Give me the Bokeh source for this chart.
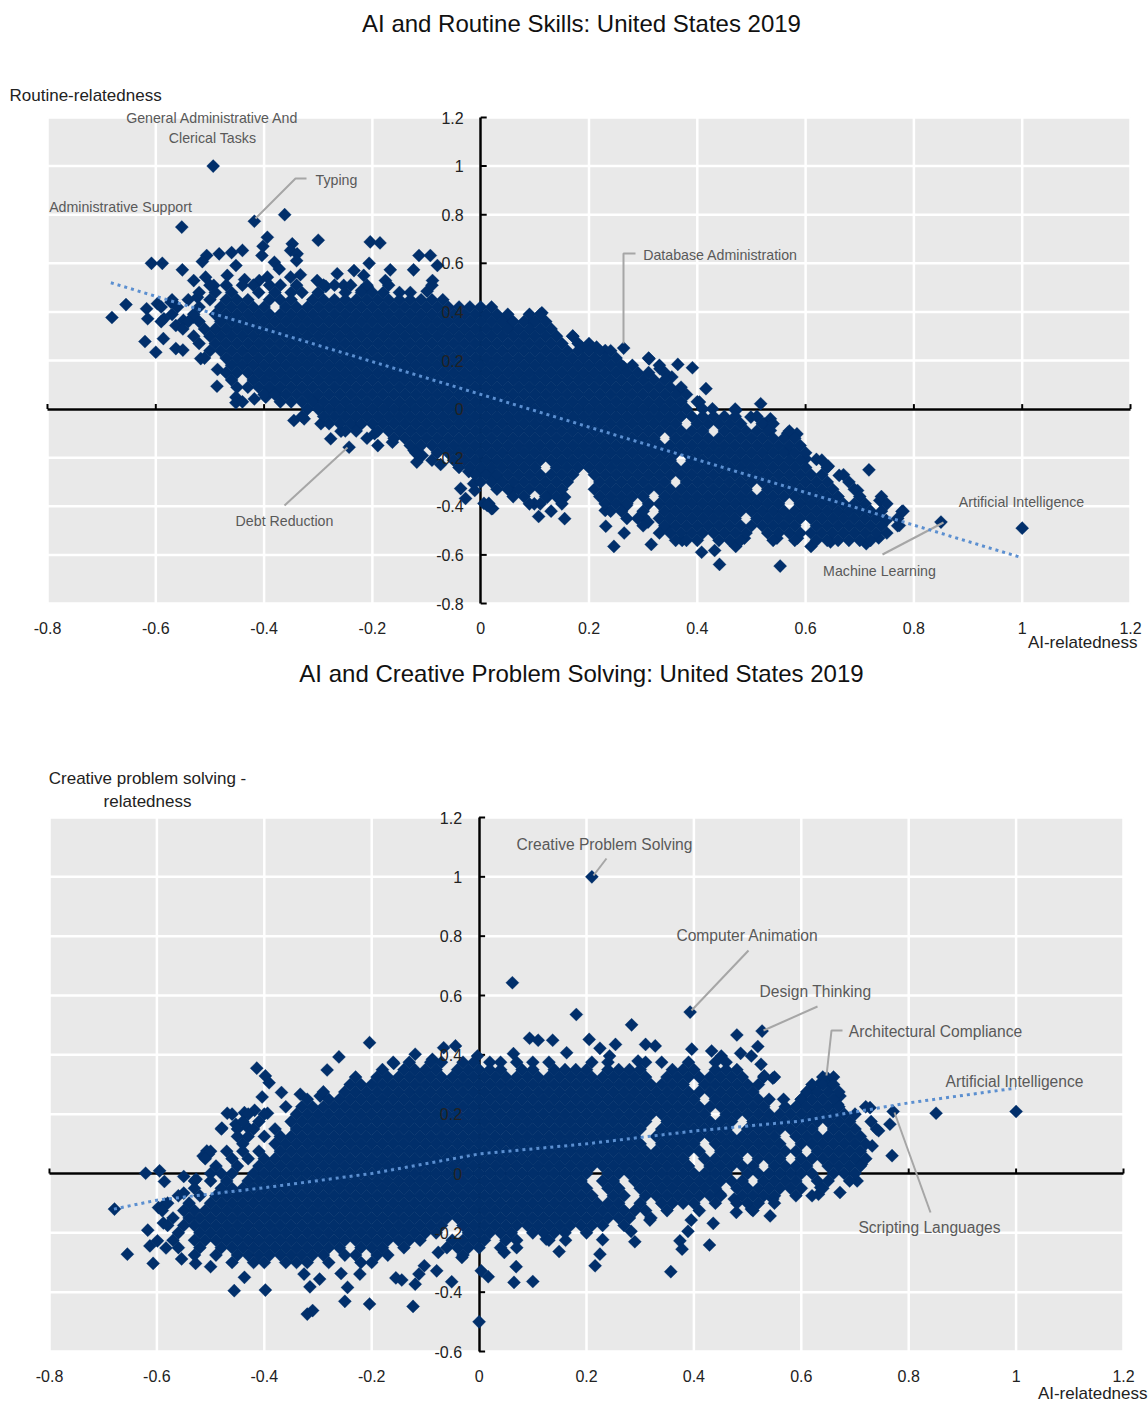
from bokeh.plotting import figure
from bokeh.layouts import column
from bokeh.models import Range1d, LinearAxis, FixedTicker, Label
from bokeh.core.properties import value
from bokeh.embed import file_html
from bokeh.resources import INLINE

x_ticks = [-0.8, -0.6, -0.4, -0.2, 0, 0.2, 0.4, 0.6, 0.8, 1, 1.2]
x_tick_labels = ["-0.8", "-0.6", "-0.4", "-0.2", "0", "0.2", "0.4", "0.6", "0.8", "1", "1.2"]
y_ticks_top = [-0.8, -0.6, -0.4, -0.2, 0, 0.2, 0.4, 0.6, 0.8, 1, 1.2]
y_labels_top = ["-0.8", "-0.6", "-0.4", "-0.2", "0", "0.2", "0.4", "0.6", "0.8", "1", "1.2"]
y_ticks_bottom = [-0.6, -0.4, -0.2, 0, 0.2, 0.4, 0.6, 0.8, 1, 1.2]
y_labels_bottom = ["-0.6", "-0.4", "-0.2", "0", "0.2", "0.4", "0.6", "0.8", "1", "1.2"]

# ---- isolated marks (AI-relatedness, routine-relatedness)
routine_x = [-.494,-.418,-.362,-.552,-.30,-.394,-.402,-.348,-.204,-.186,-.114,-.093,-.608,-.588,-.551,-.506,-.514,-.483,-.46,-.44,-.452,-.404,-.351,-.339,-.34,-.381,-.372,-.333,-.351,-.265,-.234,-.206,-.216,-.167,-.176,-.124,-.08,-.089,-.099,-.209,-.22,-.302,-.286,-.253,-.681,-.655,-.617,-.597,-.572,-.615,-.585,-.563,-.549,-.62,-.586,-.60,-.563,-.55,-.517,-.53,-.523,-.53,-.508,-.493,-.468,-.436,-.409,-.394,-.486,-.487,-.452,-.452,-.418,-.39,-.378,-.397,-.345,-.326,-.308,-.295,-.277,-.258,-.243,-.231,-.196,-.163,-.123,-.118,-.108,-.074,-.037,-.028,-.011,-.022,0,.015,.028,-.013,.006,.022,.015,
.113,.095,.048,.052,.17,.186,.214,.23,.264,.311,.264,.331,.364,.391,.353,.416,.366,.404,.428,.517,.499,.535,.523,.535,.471,.567,.584,.567,.60,.62,.642,.717,.662,.696,.737,.778,.749,.773,.735,.85,1.0,.712,.646,.61,.585,.547,.553,.441,.408,.432,.471,.487,.315,.246,.265,.231,.301,.309,.341,.372,.155,.107,.099,.123,.155,.02,.012,.024,.057,.269,.23]
routine_y = [1.0,.773,.80,.749,.695,.707,.67,.68,.688,.684,.632,.632,.60,.60,.573,.632,.607,.639,.644,.653,.591,.632,.653,.639,.611,.604,.577,.553,.543,.557,.57,.60,.55,.573,.529,.573,.591,.529,.485,.502,.488,.529,.505,.509,.377,.43,.413,.434,.44,.372,.372,.344,.365,.278,.29,.234,.249,.243,.208,.378,.46,.529,.543,.509,.55,.533,.529,.543,.163,.094,.049,.026,.042,.085,.064,.049,-.047,-.04,.035,-.06,-.122,-.091,-.157,-.074,-.101,-.136,-.17,-.218,-.191,-.228,-.327,-.368,-.335,-.257,-.253,-.266,-.276,-.307,-.388,-.409,-.388,
.396,.358,.378,.335,.30,.255,.255,.241,.251,.207,.173,.166,.184,.17,.132,.084,.077,.029,.001,.022,-.033,-.04,-.06,-.088,-.006,-.099,-.102,-.17,-.204,-.207,-.235,-.25,-.273,-.335,-.376,-.421,-.458,-.479,-.53,-.465,-.49,-.554,-.547,-.565,-.531,-.531,-.646,-.639,-.589,-.582,-.565,-.531,-.557,-.565,-.51,-.482,-.445,-.465,-.486,-.54,-.451,-.442,-.39,-.362,-.362,-.41,-.396,-.273,-.335,-.397,-.417]

# dense part of the first panel, band by band: routine-relatedness, then AI-relatedness in hundredths
routine_bands = [
(.51,[-50,-47,-44,-42,-39,-37,-34,-29,-27,-24,-21,-17,-9]),
(.48,[-52,-49,-46,-41,-38,-35,-33,-30,-25,-22,-20,-18,-15,-13]),
(.45,[-57,-54,-50,-47,-45,-43,-39,-37,-35,-31,-29,-27,-25,-23,-21,-19,-17,-15,-13,-11,-9,-7]),
(.42,[-59,-56,-52,-48,-46,-44,-42,-40,-36,-34,-32,-30,-28,-26,-24,-22,-20,-18,-16,-14,-12,-10,-8,-6,-4,-2,0,2]),
(.39,[-57,-53,-49,-47,-45,-43,-41,-39,-37,-35,-33,-31,-29,-27,-25,-23,-21,-19,-17,-15,-13,-11,-9,-7,-5,-3,-1,1,3,5,9,11]),
(.36,[-59,-54,-52,-48,-46,-44,-42,-40,-38,-36,-34,-32,-30,-28,-26,-24,-22,-20,-18,-16,-14,-12,-10,-8,-6,-4,-2,0,2,4,6,8,10,12]),
(.33,[-55,-51,-49,-47,-45,-43,-41,-39,-37,-35,-33,-31,-29,-27,-25,-23,-21,-19,-17,-15,-13,-11,-9,-7,-5,-3,-1,1,3,5,7,9,11,13]),
(.30,[-53,-50,-48,-46,-44,-42,-40,-38,-36,-34,-32,-30,-28,-26,-24,-22,-20,-18,-16,-14,-12,-10,-8,-6,-4,-2,0,2,4,6,8,10,12,14,17]),
(.27,[-52,-49,-47,-45,-43,-41,-39,-37,-35,-33,-31,-29,-27,-25,-23,-21,-19,-17,-15,-13,-11,-9,-7,-5,-3,-1,1,3,5,7,9,11,13,15,18,20]),
(.24,[-50,-48,-46,-44,-42,-40,-38,-36,-34,-32,-30,-28,-26,-24,-22,-20,-18,-16,-14,-12,-10,-8,-6,-4,-2,0,2,4,6,8,10,12,14,16,18,20,22,24]),
(.21,[-51,-47,-45,-43,-41,-39,-37,-35,-33,-31,-29,-27,-25,-23,-21,-19,-17,-15,-13,-11,-9,-7,-5,-3,-1,1,3,5,7,9,11,13,15,17,19,21,23,25,31]),
(.18,[-46,-44,-42,-40,-38,-36,-34,-32,-30,-28,-26,-24,-22,-20,-18,-16,-14,-12,-10,-8,-6,-4,-2,0,2,4,6,8,10,12,14,16,18,20,22,24,26,28,33]),
(.15,[-47,-45,-43,-41,-39,-37,-35,-33,-31,-29,-27,-25,-23,-21,-19,-17,-15,-13,-11,-9,-7,-5,-3,-1,1,3,5,7,9,11,13,15,17,19,21,23,25,27,29,31,34]),
(.12,[-46,-42,-40,-38,-36,-34,-32,-30,-28,-26,-24,-22,-20,-18,-16,-14,-12,-10,-8,-6,-4,-2,0,2,4,6,8,10,12,14,16,18,20,22,24,26,28,30,32,34]),
(.09,[-45,-43,-41,-39,-37,-35,-33,-31,-29,-27,-25,-23,-21,-19,-17,-15,-13,-11,-9,-7,-5,-3,-1,1,3,5,7,9,11,13,15,17,19,21,23,25,27,29,31,33,35,37]),
(.06,[-40,-38,-36,-34,-32,-30,-28,-26,-24,-22,-20,-18,-16,-14,-12,-10,-8,-6,-4,-2,0,2,4,6,8,10,12,14,16,18,20,22,24,26,28,30,32,34,36,38]),
(.03,[-44,-37,-35,-33,-31,-29,-27,-25,-23,-21,-19,-17,-15,-13,-11,-9,-7,-5,-3,-1,1,3,5,7,9,11,13,15,17,19,21,23,25,27,29,31,33,35,37,40]),
(.00,[-32,-30,-28,-26,-24,-22,-20,-18,-16,-14,-12,-10,-8,-6,-4,-2,0,2,4,6,8,10,12,14,16,18,20,22,24,26,28,30,32,34,36,38,41,47]),
(-.03,[-33,-29,-27,-25,-23,-21,-19,-17,-15,-13,-11,-9,-7,-5,-3,-1,1,3,5,7,9,11,13,15,17,19,21,23,25,27,29,31,33,35,37,39,41,43,45,47,51]),
(-.06,[-28,-26,-24,-22,-20,-18,-16,-14,-12,-10,-8,-6,-4,-2,0,2,4,6,8,10,12,14,16,18,20,22,24,26,28,30,32,34,36,40,42,44,46,48,52,54]),
(-.09,[-25,-23,-19,-17,-15,-13,-11,-9,-7,-5,-3,-1,1,3,5,7,9,11,13,15,17,19,21,23,25,27,29,31,33,35,37,39,41,45,47,49,51,53,57]),
(-.12,[-21,-16,-14,-12,-10,-8,-6,-4,-2,0,2,4,6,8,10,12,14,16,18,20,22,24,26,28,30,32,36,38,40,42,44,46,48,50,52,54,56,58]),
(-.15,[-19,-13,-11,-9,-7,-5,-3,-1,1,3,5,7,9,11,13,15,17,19,21,23,25,27,29,31,33,35,37,39,41,43,45,47,49,51,53,55,57,59]),
(-.18,[-12,-8,-6,-4,-2,0,2,4,6,8,10,12,14,16,18,20,22,24,26,28,30,32,34,36,38,40,42,44,46,48,50,52,54,56,58,60]),
(-.21,[-9,-5,-3,-1,1,3,5,7,9,11,13,15,17,19,21,23,25,27,29,31,33,35,39,41,43,45,47,49,51,53,55,57,59,63]),
(-.24,[-4,-2,0,2,4,6,8,10,14,16,18,20,22,24,26,28,30,32,34,36,38,40,42,44,46,48,50,52,54,56,58,60,64]),
(-.27,[-1,1,3,5,7,9,11,13,15,17,21,23,25,27,29,31,33,35,37,39,41,43,45,47,49,51,53,55,57,59,61,63,67]),
(-.30,[0,2,4,6,8,10,12,14,16,22,24,26,28,30,32,34,38,40,42,44,46,48,50,52,54,56,58,60,62,64,68]),
(-.33,[3,5,7,9,11,13,15,21,23,25,27,29,31,33,35,37,39,41,43,45,47,49,53,55,57,59,61,63,65,69]),
(-.36,[6,8,12,14,22,24,26,28,30,34,36,38,40,42,44,46,48,50,52,54,56,58,60,62,64,66,70,74]),
(-.39,[9,11,15,23,25,27,31,33,35,37,39,41,43,45,47,49,51,53,55,59,61,63,65,67,69,71,75]),
(-.42,[13,24,26,30,34,36,38,40,42,44,46,48,50,52,54,56,58,60,62,64,66,68,70,72,74,78]),
(-.45,[27,29,33,35,37,39,41,43,45,47,51,53,55,57,59,61,63,65,67,69,71,73,77]),
(-.48,[30,34,36,38,40,42,44,46,48,50,52,54,56,58,62,64,66,68,70,72,74,77]),
(-.51,[33,35,37,39,41,43,45,47,49,53,55,57,59,61,63,65,67,69,71,73,75]),
(-.54,[36,38,40,44,46,48,54,58,62,64,66,68,70,72]),
]

# ---- isolated marks (AI-relatedness, creative-relatedness)
creative_x = [-.204,-.261,-.283,-.414,-.398,-.391,-.368,-.404,-.333,-.296,-.469,-.437,-.418,-.394,-.479,-.453,-.431,-.507,-.514,-.504,-.621,-.595,-.586,-.55,-.527,-.55,-.679,-.597,-.585,-.588,-.617,-.613,-.599,-.583,-.655,-.607,-.554,-.528,-.5,-.456,-.398,-.437,-.315,-.32,-.31,-.25,-.245,-.257,-.297,-.326,-.204,-.123,-.222,-.155,-.144,-.119,-.112,-.102,-.079,-.051,0,.004,.017,.065,.10,.069,-.032,-.076,.047,-.066,-.044,-.119,-.159,-.003,-.087,.064,
.062,.181,.284,.393,.527,.48,.094,.11,.137,.163,.205,.225,.254,.243,.31,.328,.296,.396,.433,.451,.487,.519,.507,.525,.547,.531,.648,.636,.62,.656,.672,.668,.567,.6,.728,.771,.744,.765,.732,.769,.712,.704,.672,.632,.636,.851,1.0,.542,.507,.479,.475,.449,.547,.436,.395,.389,.374,.378,.429,.357,.318,.283,.29,.23,.225,.216,.149,.161,.125,.21]
creative_y = [.441,.393,.349,.355,.329,.306,.273,.258,.267,.261,.203,.205,.213,.203,.153,.166,.155,.076,.059,.065,.001,.009,-.027,-.01,-.019,-.066,-.12,-.115,-.103,-.167,-.191,-.244,-.227,-.251,-.272,-.303,-.288,-.303,-.314,-.395,-.393,-.35,-.382,-.474,-.462,-.431,-.384,-.337,-.356,-.339,-.44,-.448,-.339,-.352,-.359,-.373,-.339,-.311,-.328,-.365,-.5,-.328,-.348,-.367,-.364,-.314,-.283,-.266,-.266,.424,.43,.402,.371,.396,.385,.404,
.643,.536,.501,.544,.48,.467,.456,.449,.449,.407,.452,.422,.435,.396,.435,.43,.379,.419,.413,.396,.405,.428,.396,.368,.321,.329,.323,.306,.284,.301,.261,.233,.25,.25,.222,.209,.144,.166,.093,.06,.031,-.025,-.064,-.07,-.047,.203,.209,-.143,-.12,-.131,-.086,-.07,-.086,-.168,-.157,-.195,-.227,-.255,-.241,-.331,-.157,-.195,-.23,-.223,-.272,-.311,-.263,-.225,-.221,1.0]

# dense part of the second panel, band by band
creative_bands = [
(.375,[-16,-13,-9,-7,-3,-1,2,4,7,10,13,21,24,31,34,39,44,46]),
(.35,[-18,-14,-12,-10,-8,-4,-2,0,2,4,8,10,14,16,18,20,24,26,28,30,36,38,40,44,46,48]),
(.325,[-23,-19,-17,-15,-13,-11,-9,-7,-5,-3,-1,1,3,5,7,9,11,13,15,17,19,21,23,25,27,29,31,35,37,39,41,43,45,47,49,53,55,64,66]),
(.30,[-24,-22,-20,-18,-16,-14,-12,-10,-8,-6,-4,-2,0,2,4,6,8,10,12,14,16,18,20,22,24,26,28,30,32,34,36,38,42,44,46,48,50,52,62,64,66]),
(.275,[-29,-25,-23,-21,-19,-17,-15,-13,-11,-9,-7,-5,-3,-1,1,3,5,7,9,11,13,15,17,19,21,23,25,27,29,31,33,35,37,39,41,43,45,47,49,51,61,63,65,67]),
(.25,[-32,-28,-26,-24,-22,-20,-18,-16,-14,-12,-10,-8,-6,-4,-2,0,2,4,6,8,10,12,14,16,18,20,22,24,26,28,30,32,34,36,38,40,44,46,48,50,52,54,60,62,64,66]),
(.225,[-36,-33,-31,-29,-27,-25,-23,-21,-19,-17,-15,-13,-11,-9,-7,-5,-3,-1,1,3,5,7,9,11,13,15,17,19,21,23,25,27,29,31,33,35,37,39,41,43,45,47,49,51,53,57,59,61,63,65,67,72]),
(.20,[-46,-43,-40,-34,-32,-30,-28,-26,-24,-22,-20,-18,-16,-14,-12,-10,-8,-6,-4,-2,0,2,4,6,8,10,12,14,16,18,20,22,24,26,28,30,32,34,36,38,40,42,46,48,50,52,54,56,58,60,62,64,66,68,70]),
(.175,[-44,-41,-35,-33,-31,-29,-27,-25,-23,-21,-19,-17,-15,-13,-11,-9,-7,-5,-3,-1,1,3,5,7,9,11,13,15,17,19,21,23,25,27,29,31,35,37,39,41,43,45,47,51,53,55,57,59,61,63,65,67,69,73]),
(.15,[-48,-45,-42,-38,-34,-32,-30,-28,-26,-24,-22,-20,-18,-16,-14,-12,-10,-8,-6,-4,-2,0,2,4,6,8,10,12,14,16,18,20,22,24,26,28,30,34,36,38,40,42,44,46,50,52,54,56,58,60,62,66,68,70,74]),
(.125,[-45,-43,-40,-37,-35,-33,-31,-29,-27,-25,-23,-21,-19,-17,-15,-13,-11,-9,-7,-5,-3,-1,1,3,5,7,9,11,13,15,17,19,21,23,25,27,29,33,35,37,39,41,43,45,47,49,51,53,55,59,61,63,65,67,69,71]),
(.10,[-44,-38,-36,-34,-32,-30,-28,-26,-24,-22,-20,-18,-16,-14,-12,-10,-8,-6,-4,-2,0,2,4,6,8,10,12,14,16,18,20,22,24,26,28,30,34,36,38,40,44,46,48,50,52,54,56,60,62,64,66,68,70,72]),
(.075,[-50,-47,-44,-41,-37,-35,-33,-31,-29,-27,-25,-23,-21,-19,-17,-15,-13,-11,-9,-7,-5,-3,-1,1,3,5,7,9,11,13,15,17,19,21,23,25,27,29,31,33,35,37,39,41,45,47,49,51,53,55,57,59,63,65,67,69,71]),
(.05,[-51,-46,-43,-40,-38,-36,-34,-32,-30,-28,-26,-24,-22,-20,-18,-16,-14,-12,-10,-8,-6,-4,-2,0,2,4,6,8,10,12,14,16,18,20,22,24,26,28,30,32,34,36,38,42,44,46,48,52,54,56,60,62,64,66,68,70,72]),
(.025,[-49,-45,-41,-39,-37,-35,-33,-31,-29,-27,-25,-23,-21,-19,-17,-15,-13,-11,-9,-7,-5,-3,-1,1,3,5,7,9,11,13,15,17,19,21,23,25,27,29,31,33,35,37,39,43,45,47,49,51,55,57,59,61,65,67,69,71]),
(.00,[-50,-48,-46,-42,-40,-38,-36,-34,-32,-30,-28,-26,-24,-22,-20,-18,-16,-14,-12,-10,-8,-6,-4,-2,0,2,4,6,8,10,12,14,16,18,20,24,26,28,30,32,34,36,38,40,42,44,46,50,52,54,56,58,60,62,66,68,70]),
(-.025,[-53,-50,-47,-43,-41,-39,-37,-35,-33,-31,-29,-27,-25,-23,-21,-19,-17,-15,-13,-11,-9,-7,-5,-3,-1,1,3,5,7,9,11,13,15,17,19,23,25,29,31,33,35,37,39,41,43,45,47,49,53,55,57,59,63,65,69]),
(-.05,[-53,-48,-46,-44,-42,-40,-38,-36,-34,-32,-30,-28,-26,-24,-22,-20,-18,-16,-14,-12,-10,-8,-6,-4,-2,0,2,4,6,8,10,12,14,16,18,20,24,26,30,32,34,36,38,40,42,44,48,50,52,54,56,58,60,64]),
(-.075,[-56,-52,-49,-47,-45,-43,-41,-39,-37,-35,-33,-31,-29,-27,-25,-23,-21,-19,-17,-15,-13,-11,-9,-7,-5,-3,-1,1,3,5,7,9,11,13,15,17,19,21,25,27,31,33,35,37,39,41,43,45,49,51,53,55,59,62]),
(-.10,[-58,-54,-50,-48,-46,-44,-42,-40,-38,-36,-34,-32,-30,-28,-26,-24,-22,-20,-18,-16,-14,-12,-10,-8,-6,-4,-2,0,2,4,6,8,10,12,14,16,18,20,22,24,26,30,34,36,38,40,44,48,50,52,55]),
(-.125,[-59,-55,-53,-51,-49,-47,-45,-43,-41,-39,-37,-35,-33,-31,-29,-27,-25,-23,-21,-19,-17,-15,-13,-11,-9,-7,-5,-3,-1,1,3,5,7,9,11,13,15,17,19,21,23,25,27,29,31,35,41,51]),
(-.15,[-57,-54,-52,-50,-48,-46,-44,-42,-40,-38,-36,-34,-32,-30,-28,-26,-24,-22,-20,-18,-16,-14,-12,-10,-8,-6,-4,-2,0,2,4,6,8,10,12,14,16,18,20,22,24,26,28,32]),
(-.175,[-58,-55,-53,-51,-49,-47,-45,-43,-41,-39,-37,-35,-33,-31,-29,-27,-25,-23,-21,-19,-17,-15,-13,-11,-9,-7,-3,-1,1,3,5,7,9,11,13,15,17,19,21,23,27]),
(-.20,[-56,-52,-50,-48,-46,-44,-42,-40,-38,-36,-34,-32,-30,-28,-26,-24,-22,-20,-18,-16,-14,-12,-10,-8,-2,0,2,4,6,10,12,14,16,20]),
(-.225,[-57,-53,-51,-49,-47,-45,-43,-41,-39,-37,-35,-33,-31,-29,-27,-25,-23,-21,-19,-17,-15,-13,-11,-5,-3,-1,1,5,7,13]),
(-.25,[-56,-52,-48,-46,-44,-42,-40,-38,-36,-34,-32,-30,-28,-26,-22,-20,-18,-14,-6,-4,-2,0,4,7]),
(-.275,[-53,-49,-45,-43,-41,-39,-37,-35,-33,-31,-29,-25,-23,-19,-17,-3]),
(-.30,[-46,-42,-40,-36,-34,-32,-28,-22,-20]),
]

trend_top_x = [-0.683, 0.997]
trend_top_y = [0.52, -0.61]
trend_bottom_x = [-0.68, -0.6, -0.4, -0.2, 0, 0.2, 0.4, 0.6, 0.8, 1.0]
trend_bottom_y = [-0.12, -0.09, -0.048, 0.0, 0.066, 0.10, 0.143, 0.177, 0.238, 0.288]

top_labels = ["General Administrative And", "Clerical Tasks", "Typing", "Administrative Support", "Database Administration",
              "Debt Reduction", "Artificial Intelligence", "Machine Learning"]
top_label_px = [(212,117),(212,137),(336,179),(120,206),(720,254),(284,520),(1021,501),(879,570)]
bottom_labels = ["Creative Problem Solving", "Computer Animation", "Design Thinking", "Architectural Compliance",
                 "Artificial Intelligence", "Scripting Languages"]
bottom_label_px = [(604,844),(747,935),(815,991),(935,1031),(1014,1081),(929,1227)]

top_leaders_px = [[(255,218),(295,178),(306,178)], [(623,343),(623,253),(635,253)], [(347,447),(284,505)], [(943,522),(882,554)]]
bottom_leaders_px = [[(593,875),(606,858)], [(691,1010),(748,950)], [(763,1030),(817,1006)],
                     [(826,1075),(831,1030),(842,1030)], [(894,1112),(930,1212)]]

NAVY = "#012f6b"
GREY = "#e9e9e9"
FONT = "Liberation Sans"
TEXT = "#222222"
W = 1148


def expand(bands, xs, ys):
    out_x, out_y = list(xs), list(ys)
    for yv, row in bands:
        for v in row:
            out_x.append(v / 100)
            out_y.append(yv)
    return out_x, out_y


class Panel:
    """A figure whose frame is the whole canvas; the chart's axes sit inside it at the grey field's place."""

    def __init__(self, xs, ys, yticks, ylabels, ymin, left, top, fw, fh, canvas_top, canvas_h):
        self.left, self.top, self.ymin = left, top, ymin
        self.sx = fw / 2.0
        self.sy = fh / (1.2 - ymin)
        x0 = -0.8 - left / self.sx
        x1 = -0.8 + (W - left) / self.sx
        y1 = 1.2 + (top - canvas_top) / self.sy
        y0 = 1.2 - (canvas_top + canvas_h - top) / self.sy
        p = figure(width=W, height=canvas_h, frame_width=W, frame_height=canvas_h,
                   output_backend="svg", toolbar_location=None,
                   x_range=Range1d(x0, x1), y_range=Range1d(y0, y1), x_axis_type=None, y_axis_type=None,
                   min_border_left=0, min_border_right=0, min_border_top=0, min_border_bottom=0,
                   background_fill_color="white", border_fill_color="white", outline_line_color=None)
        self.p = p
        nx, ny = len(x_ticks), len(yticks)
        p.quad(left=[-0.8], right=[1.2], bottom=[ymin], top=[1.2], fill_color=GREY, line_color=None, level="image")
        p.segment(x0=x_ticks, x1=x_ticks, y0=[ymin] * nx, y1=[1.2] * nx, line_color="white", line_width=2.5, level="image")
        p.segment(x0=[-0.8] * ny, x1=[1.2] * ny, y0=yticks, y1=yticks, line_color="white", line_width=2.5, level="image")
        # black cross of axes at zero, under the marks; their tick marks point up and to the right
        common = dict(level="underlay", axis_line_color="black", axis_line_width=2.5, major_tick_line_color=None,
                      minor_tick_line_color=None, major_label_standoff=0, fixed_location=0,
                      ticker=FixedTicker(ticks=[]))
        p.add_layout(LinearAxis(bounds=(-0.8, 1.2), **common), "below")
        p.add_layout(LinearAxis(bounds=(ymin, 1.2), **common), "left")
        p.segment(x0=x_ticks, x1=x_ticks, y0=[0] * nx, y1=[5 / self.sy] * nx, line_color="black", line_width=2, level="underlay")
        p.segment(x0=[0] * ny, x1=[6 / self.sx] * ny, y0=yticks, y1=yticks, line_color="black", line_width=2, level="underlay")
        p.scatter(xs, ys, marker="square", angle=0.7854, size=9.3, fill_color=NAVY, line_color=NAVY, line_width=0.3)
        p.text(x=x_ticks, y=[ymin] * nx, text=x_tick_labels, y_offset=24, text_align="center",
               text_baseline="middle", text_font=value(FONT), text_font_size="16px", text_color=TEXT, level="guide")
        p.text(x=[0] * ny, y=yticks, text=ylabels, x_offset=-17, text_align="right",
               text_baseline="middle", text_font=value(FONT), text_font_size="16px", text_color=TEXT, level="guide")

    def dx(self, px):
        return -0.8 + (px - self.left) / self.sx

    def dy(self, py):
        return 1.2 - (py - self.top) / self.sy

    def label(self, text, px, py, size, color, align="center"):
        self.p.add_layout(Label(x=self.dx(px), y=self.dy(py), text=text, text_font=FONT, text_font_size=f"{size}px",
                                text_color=color, text_align=align, text_baseline="middle"))

    def leader(self, pts):
        self.p.line([self.dx(a) for a, _ in pts], [self.dy(b) for _, b in pts], line_color="#a6a6a6", line_width=2)


xa, ya = expand(routine_bands, routine_x, routine_y)
top = Panel(xa, ya, y_ticks_top, y_labels_top, -0.8, 47, 117, 1083, 486, 0, 658)
for pts in top_leaders_px:
    top.leader(pts)
top.p.line(trend_top_x, trend_top_y, line_color="#5b8fd0", line_width=3, line_dash="3 4")
for t, (a, b) in zip(top_labels, top_label_px):
    top.label(t, a, b, 14.2, "#595959")
top.label("AI and Routine Skills: United States 2019", 581, 23, 24, "#111111")
top.label("Routine-relatedness", 9, 95, 17, TEXT, align="left")
top.label("AI-relatedness", 1137, 642, 17, TEXT, align="right")

xb, yb = expand(creative_bands, creative_x, creative_y)
bot = Panel(xb, yb, y_ticks_bottom, y_labels_bottom, -0.6, 49, 817, 1074, 534, 658, 744)
for pts in bottom_leaders_px:
    bot.leader(pts)
bot.p.line(trend_bottom_x, trend_bottom_y, line_color="#5b8fd0", line_width=3, line_dash="3 4")
for t, (a, b) in zip(bottom_labels, bottom_label_px):
    bot.label(t, a, b, 15.6, "#595959")
bot.label("AI and Creative Problem Solving: United States 2019", 581, 673, 24, "#111111")
bot.label("Creative problem solving -", 147, 778, 17, TEXT)
bot.label("relatedness", 147, 801, 17, TEXT)
bot.label("AI-relatedness", 1147, 1393, 17, TEXT, align="right")

page = column(top.p, bot.p, spacing=0)
open("out.html", "w").write(file_html(page, INLINE))
